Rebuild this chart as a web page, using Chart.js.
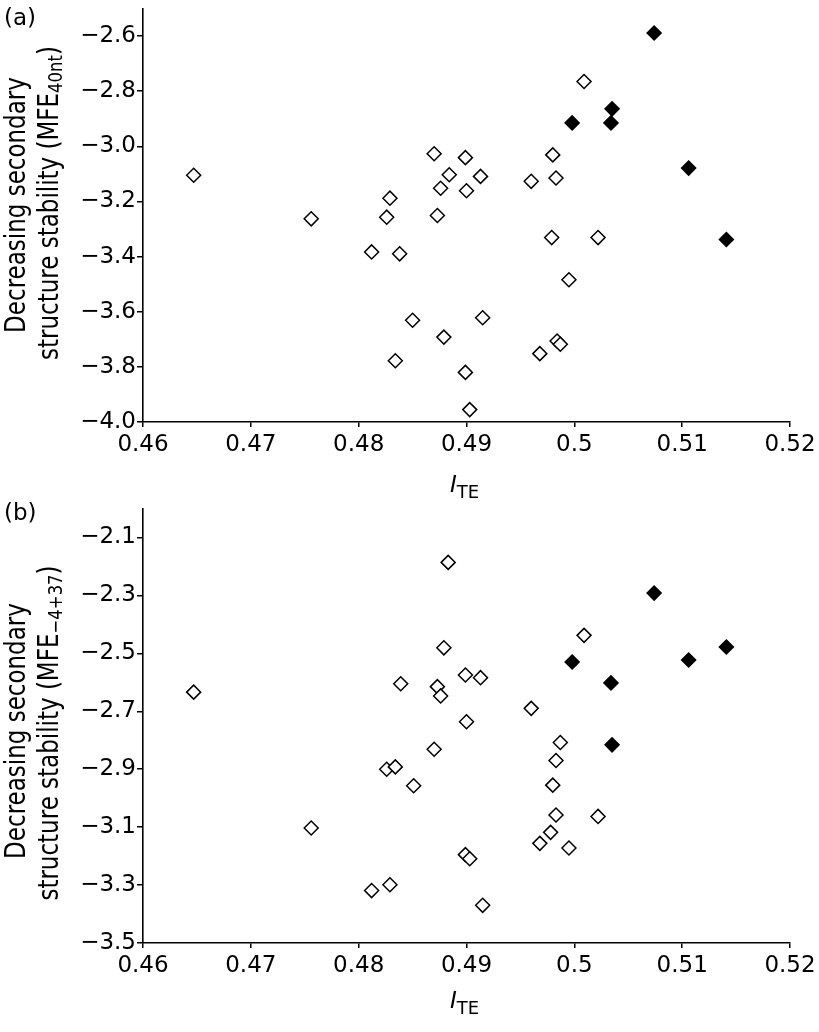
<!DOCTYPE html>
<html>
<head>
<meta charset="utf-8">
<script src="https://cdn.jsdelivr.net/npm/chart.js@4.4.1/dist/chart.umd.min.js"></script>
<style>
  html, body { margin: 0; padding: 0; background: #fff; }
  #wrap { position: relative; width: 819px; height: 1032px; }
  #ca { position: absolute; left: 0; top: 0; }
  #cb { position: absolute; left: 0; top: 500px; }
</style>
</head>
<body>
<div id="wrap">
  <div id="ca" style="width:819px;height:500px"><canvas id="chartA"></canvas></div>
  <div id="cb" style="width:819px;height:532px"><canvas id="chartB"></canvas></div>
</div>
<script>
// ---- tick values and labels ----
const xTicks = [0.46, 0.47, 0.48, 0.49, 0.5, 0.51, 0.52];
const xTickLabels = ['0.46', '0.47', '0.48', '0.49', '0.5', '0.51', '0.52'];
const yTicksA = [-4.0, -3.8, -3.6, -3.4, -3.2, -3.0, -2.8, -2.6];
const yTickLabelsA = ['\u22124.0', '\u22123.8', '\u22123.6', '\u22123.4', '\u22123.2', '\u22123.0', '\u22122.8', '\u22122.6'];
const yTicksB = [-3.5, -3.3, -3.1, -2.9, -2.7, -2.5, -2.3, -2.1];
const yTickLabelsB = ['\u22123.5', '\u22123.3', '\u22123.1', '\u22122.9', '\u22122.7', '\u22122.5', '\u22122.3', '\u22122.1'];

// ---- panel (a): MFE 40nt ----
const openXA = [0.4647, 0.4756, 0.4829, 0.4826, 0.4812, 0.4838, 0.4850, 0.4834, 0.4879, 0.4915,
                0.4899, 0.4903, 0.4995, 0.4984, 0.4987, 0.4968, 0.5009, 0.4870, 0.4899, 0.4980,
                0.4884, 0.4913, 0.4876, 0.4900, 0.4960, 0.4983, 0.4873, 0.4979, 0.5022];
const openYA = [-3.105, -3.263, -3.188, -3.257, -3.383, -3.390, -3.631, -3.778, -3.692, -3.622,
                -3.820, -3.955, -3.484, -3.706, -3.718, -3.752, -2.765, -3.027, -3.041, -3.031,
                -3.103, -3.109, -3.152, -3.161, -3.127, -3.115, -3.251, -3.331, -3.331];
const filledXA = [0.5074, 0.5035, 0.4998, 0.5034, 0.5106, 0.5141];
const filledYA = [-2.589, -2.864, -2.915, -2.915, -3.079, -3.338];

// ---- panel (b): MFE -4+37 ----
const openXB = [0.4647, 0.4839, 0.4883, 0.5009, 0.4879, 0.4899, 0.4913, 0.4873, 0.4876, 0.4960,
                0.4900, 0.4870, 0.4987, 0.4983, 0.4980, 0.4983, 0.5022, 0.4978, 0.4968, 0.4995,
                0.4899, 0.4903, 0.4915, 0.4851, 0.4826, 0.4834, 0.4756, 0.4812, 0.4829];
const openYB = [-2.634, -2.605, -2.186, -2.438, -2.481, -2.575, -2.584, -2.615, -2.647, -2.690,
                -2.736, -2.831, -2.808, -2.870, -2.955, -3.058, -3.063, -3.118, -3.156, -3.172,
                -3.195, -3.209, -3.370, -2.957, -2.900, -2.892, -3.103, -3.319, -3.299];
const filledXB = [0.5074, 0.5141, 0.5106, 0.4998, 0.5034, 0.5035];
const filledYB = [-2.292, -2.478, -2.523, -2.530, -2.602, -2.816];

const FONT = 'DejaVu Sans';

function pts(xs, ys) { return xs.map((x, i) => ({ x: x, y: ys[i] })); }

function drawRich(ctx, x, y, segs) {
  let cx = x;
  segs.forEach(s => {
    ctx.font = (s.italic ? 'italic ' : '') + s.size + 'px "' + FONT + '"';
    ctx.fillText(s.t, cx, y + (s.dy || 0));
    cx += ctx.measureText(s.t).width;
  });
}
function richWidth(ctx, segs) {
  let w = 0;
  segs.forEach(s => {
    ctx.font = (s.italic ? 'italic ' : '') + s.size + 'px "' + FONT + '"';
    w += ctx.measureText(s.t).width;
  });
  return w;
}

function makeChart(id, o) {
  const textPlugin = {
    id: 'richText' + id,
    afterDraw(chart) {
      const ctx = chart.ctx;
      const ca = chart.chartArea;
      ctx.save();
      ctx.fillStyle = '#000';
      ctx.textBaseline = 'alphabetic';
      ctx.textAlign = 'left';
      // panel label
      ctx.font = '23px "' + FONT + '"';
      ctx.fillText(o.panel, 4, o.panelY);
      // y title (two lines, rotated)
      o.yLines.forEach(line => {
        ctx.save();
        ctx.translate(line.x, line.cy);
        ctx.rotate(-Math.PI / 2);
        ctx.scale(1, 1.22);
        const w = richWidth(ctx, line.segs);
        drawRich(ctx, -w / 2, 0, line.segs);
        ctx.restore();
      });
      // x title
      const xs = [{ t: 'I', size: 23, italic: true }, { t: 'TE', size: 18, dy: 6 }];
      const w = richWidth(ctx, xs);
      drawRich(ctx, (ca.left + ca.right) / 2 - w / 2 - 2, ca.bottom + o.xTitleOff, xs);
      ctx.restore();
    }
  };

  return new Chart(document.getElementById(id), {
    type: 'scatter',
    data: {
      datasets: [
        {
          data: pts(o.openX, o.openY),
          pointStyle: 'rectRot', pointRadius: 7, pointHoverRadius: 7,
          pointBorderWidth: 1.5, borderColor: '#000', backgroundColor: '#fff',
          pointBackgroundColor: '#fff', pointBorderColor: '#000'
        },
        {
          data: pts(o.filledX, o.filledY),
          pointStyle: 'rectRot', pointRadius: 7, pointHoverRadius: 7,
          pointBorderWidth: 1.5, borderColor: '#000', backgroundColor: '#000',
          pointBackgroundColor: '#000', pointBorderColor: '#000'
        }
      ]
    },
    options: {
      responsive: true,
      maintainAspectRatio: false,
      animation: false,
      events: [],
      layout: { padding: { left: 0, top: o.top, right: 29, bottom: 0 } },
      plugins: { legend: { display: false }, tooltip: { enabled: false }, title: { display: false } },
      scales: {
        x: {
          type: 'linear', min: 0.46, max: 0.52,
          afterBuildTicks: s => { s.ticks = xTicks.map(v => ({ value: v })); },
          afterFit: s => { s.height = o.xAxisH; s.paddingLeft = 0; s.paddingRight = 0; },
          grid: { display: true, drawOnChartArea: false, drawTicks: true, tickLength: 5, color: '#000', lineWidth: 1.5 },
          border: { display: true, color: '#000', width: 1.6 },
          ticks: {
            autoSkip: false, maxRotation: 0, padding: 4, color: '#000',
            font: { family: FONT, size: 23 },
            callback: (v, i) => xTickLabels[i]
          }
        },
        y: {
          type: 'linear', min: o.yMin, max: o.yMax,
          afterBuildTicks: s => { s.ticks = o.yTicks.map(v => ({ value: v })); },
          afterFit: s => { s.width = 143; s.paddingTop = 0; s.paddingBottom = 0; },
          grid: { display: true, drawOnChartArea: false, drawTicks: true, tickLength: 6, color: '#000', lineWidth: 1.5 },
          border: { display: true, color: '#000', width: 1.6 },
          ticks: {
            autoSkip: false, padding: 1, color: '#000',
            font: { family: FONT, size: 23 },
            callback: (v, i) => o.yTickLabels[i]
          }
        }
      }
    },
    plugins: [textPlugin]
  });
}

makeChart('chartA', {
  openX: openXA, openY: openYA, filledX: filledXA, filledY: filledYA,
  yMin: -4.0, yMax: -2.5, yTicks: yTicksA, yTickLabels: yTickLabelsA,
  top: 5, xAxisH: 78, panel: '(a)', panelY: 25, xTitleOff: 70,
  yLines: [
    { x: 25, cy: 205, segs: [{ t: 'Decreasing secondary', size: 23 }] },
    { x: 58, cy: 203, segs: [{ t: 'structure stability (MFE', size: 23 }, { t: '40nt', size: 16.5, dy: 3.3 }, { t: ')', size: 23 }] }
  ]
});

makeChart('chartB', {
  openX: openXB, openY: openYB, filledX: filledXB, filledY: filledYB,
  yMin: -3.5, yMax: -2.0, yTicks: yTicksB, yTickLabels: yTickLabelsB,
  top: 7, xAxisH: 89, panel: '(b)', panelY: 20, xTitleOff: 65,
  yLines: [
    { x: 25, cy: 231, segs: [{ t: 'Decreasing secondary', size: 23 }] },
    { x: 58, cy: 233, segs: [{ t: 'structure stability (MFE', size: 23 }, { t: '\u22124+37', size: 16.5, dy: 3.3 }, { t: ')', size: 23 }] }
  ]
});
</script>
</body>
</html>
